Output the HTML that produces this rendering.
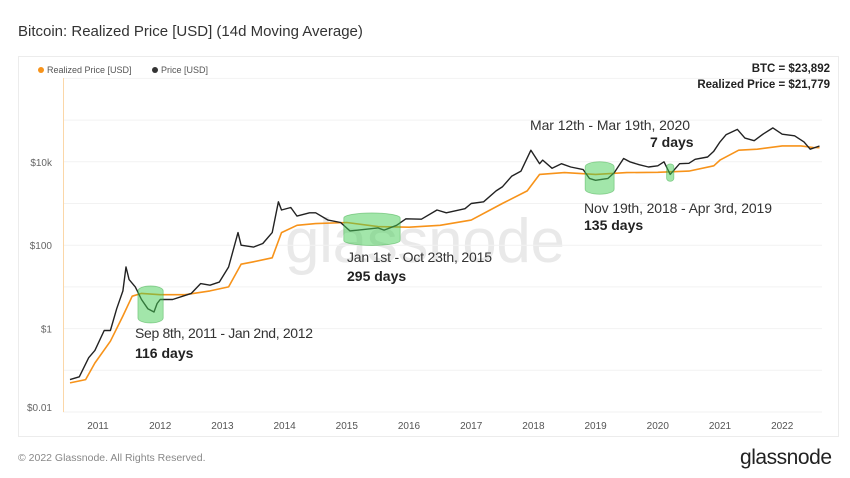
<!DOCTYPE html>
<html><head><meta charset="utf-8"><style>
body{margin:0;background:#fff;width:850px;height:478px;overflow:hidden;font-family:"Liberation Sans",sans-serif}
svg{display:block}
</style></head><body>
<svg id="c" width="850" height="478" xmlns="http://www.w3.org/2000/svg">
<text x="18" y="36" font-size="15" fill="#333">Bitcoin: Realized Price [USD] (14d Moving Average)</text>
<rect x="18.5" y="56.5" width="820" height="380" fill="none" stroke="#ececec"/>
<g>
<circle cx="41" cy="70" r="3" fill="#f7931a"/>
<text x="47" y="73" font-size="9" fill="#555">Realized Price [USD]</text>
<circle cx="155" cy="70" r="3" fill="#333"/>
<text x="161" y="73" font-size="9" fill="#555">Price [USD]</text>
</g>
<text x="830" y="72" font-size="11.5" font-weight="bold" fill="#222" text-anchor="end">BTC = $23,892</text>
<text x="830" y="88" font-size="11.5" font-weight="bold" fill="#222" text-anchor="end">Realized Price = $21,779</text>
<text x="425" y="262" font-size="62" fill="#e9e9e9" text-anchor="middle" textLength="280">glassnode</text>
<g id="grid"></g><g id="axes"></g><g id="lines"></g><g id="zones"></g><g id="notes"></g>
<text x="18" y="461" font-size="10.5" fill="#888">© 2022 Glassnode. All Rights Reserved.</text>
<text x="832" y="464" font-size="21" fill="#222" text-anchor="end" textLength="92">glassnode</text>
</svg>
<script>
const priceDates=[2010.55,2010.7,2010.85,2010.95,2011.1,2011.2,2011.3,2011.4,2011.45,2011.5,2011.6,2011.7,2011.8,2011.9,2011.95,2012.0,2012.2,2012.5,2012.65,2012.8,2012.95,2013.1,2013.25,2013.3,2013.5,2013.65,2013.8,2013.9,2013.95,2014.1,2014.2,2014.4,2014.5,2014.7,2014.9,2015.05,2015.3,2015.5,2015.6,2015.8,2015.95,2016.2,2016.45,2016.6,2016.9,2017.0,2017.2,2017.4,2017.5,2017.65,2017.8,2017.96,2018.1,2018.15,2018.3,2018.45,2018.6,2018.8,2018.9,2019.0,2019.2,2019.3,2019.45,2019.55,2019.7,2019.85,2020.0,2020.1,2020.2,2020.35,2020.5,2020.6,2020.8,2020.9,2021.0,2021.1,2021.28,2021.4,2021.55,2021.7,2021.85,2022.0,2022.2,2022.35,2022.45,2022.6];
const priceValues=[0.06,0.07,0.2,0.3,0.9,0.9,3,8,30,15,10,5,3,2.5,4,5,5,7,12,11,13,30,200,100,90,110,200,1100,700,800,500,600,600,400,350,220,240,260,230,300,430,420,700,600,750,1000,1100,2000,2500,4500,6000,19000,9000,11000,7000,9000,7500,6500,4000,3600,4000,5500,12000,10000,8500,7500,8000,10000,5000,9000,9200,11500,13000,18000,30000,45000,60000,37000,32000,47000,65000,46000,42000,30000,20000,23892];
const realizedDates=[2010.55,2010.8,2010.95,2011.2,2011.4,2011.55,2011.7,2012.0,2012.4,2012.8,2013.1,2013.3,2013.5,2013.8,2013.95,2014.2,2014.5,2015.0,2015.5,2016.0,2016.5,2017.0,2017.5,2017.9,2018.1,2018.5,2019.0,2019.5,2020.0,2020.5,2020.9,2021.0,2021.3,2021.6,2022.0,2022.3,2022.5,2022.6];
const realizedValues=[0.05,0.06,0.15,0.5,2,6,7,6.5,6.5,8,10,35,40,50,200,300,330,350,280,270,300,400,1000,2000,5000,5500,5000,5500,5600,6000,8000,11000,19000,20000,24000,24000,22000,21779];
const yearTicks=[2011,2012,2013,2014,2015,2016,2017,2018,2019,2020,2021,2022];
const yTickValues=[0.01,1,100,10000];
const yTickLabels=["$0.01","$1","$100","$10k"];
const zoneStart=[2011.69,2015.0,2018.88,2020.19];
const zoneEnd=[2012.0,2015.81,2019.25,2020.21];
const zoneLow=[1.8,130,2200,4000];
const zoneHigh=[8,450,7600,7600];
const noteTitles=["Sep 8th, 2011 - Jan 2nd, 2012","Jan 1st - Oct 23th, 2015","Nov 19th, 2018 - Apr 3rd, 2019","Mar 12th - Mar 19th, 2020"];
const noteDays=["116 days","295 days","135 days","7 days"];

const NS="http://www.w3.org/2000/svg";
const X=d=>98+62.2*(d-2011);
const Y=p=>412-41.7*(Math.log10(p)+2);
function mk(tag,attrs,parent){const e=document.createElementNS(NS,tag);for(const k in attrs)e.setAttribute(k,attrs[k]);document.getElementById(parent).appendChild(e);return e;}

for(let k=-2;k<=6;k++){const g=mk('line',{x1:63,x2:822,y1:Y(Math.pow(10,k)),y2:Y(Math.pow(10,k)),stroke:'#f2f2f2'},'grid');

}
const ax=mk('line',{x1:63.5,x2:63.5,y1:78,y2:412,stroke:'#fbd7a8'},'axes');


yTickValues.forEach((v,i)=>{const t=mk('text',{x:52,y:Y(v)+(i===0?-1:4),'font-size':10,fill:'#666','text-anchor':'end'},'axes');t.textContent=yTickLabels[i];

});
yearTicks.forEach(yr=>{const t=mk('text',{x:X(yr),y:429,'font-size':10,fill:'#555','text-anchor':'middle'},'axes');t.textContent=yr;

});

zoneStart.forEach((s,i)=>{const x1=X(s)-3,x2=X(zoneEnd[i])+3,y1=Y(zoneHigh[i]),y2=Y(zoneLow[i]);const ry=Math.min(5,(y2-y1)/4),rx=(x2-x1)/2;
const d=`M${x1},${y1} A${rx},${ry} 0 0 1 ${x2},${y1} L${x2},${y2} A${rx},${ry} 0 0 1 ${x1},${y2} Z`;
const p=mk('path',{d:d,fill:'rgba(70,205,85,0.5)',stroke:'rgba(60,170,70,0.5)','stroke-width':0.8},'zones');

});

function line(dates,vals,color,w,name){const d=dates.map((t,i)=>(i?'L':'M')+X(t).toFixed(1)+','+Y(vals[i]).toFixed(1)).join(' ');
const p=mk('path',{d:d,fill:'none',stroke:color,'stroke-width':w,'stroke-linejoin':'round'},'lines');

}
line(realizedDates,realizedValues,'#f7931a',1.6,'realized-price-line');
line(priceDates,priceValues,'#222',1.4,'price-line');

const notePos=[[135,338,178,135,358],[347,262,145,347,281],[584,213,188,584,230],[530,130,160,650,147]];
notePos.forEach((p,i)=>{const t=mk('text',{x:p[0],y:p[1],'font-size':14,fill:'#333',textLength:p[2]},'notes');t.textContent=noteTitles[i];


const b=mk('text',{x:p[3],y:p[4],'font-size':14,'font-weight':'bold',fill:'#222'},'notes');b.textContent=noteDays[i];

});
</script>
</body></html>
